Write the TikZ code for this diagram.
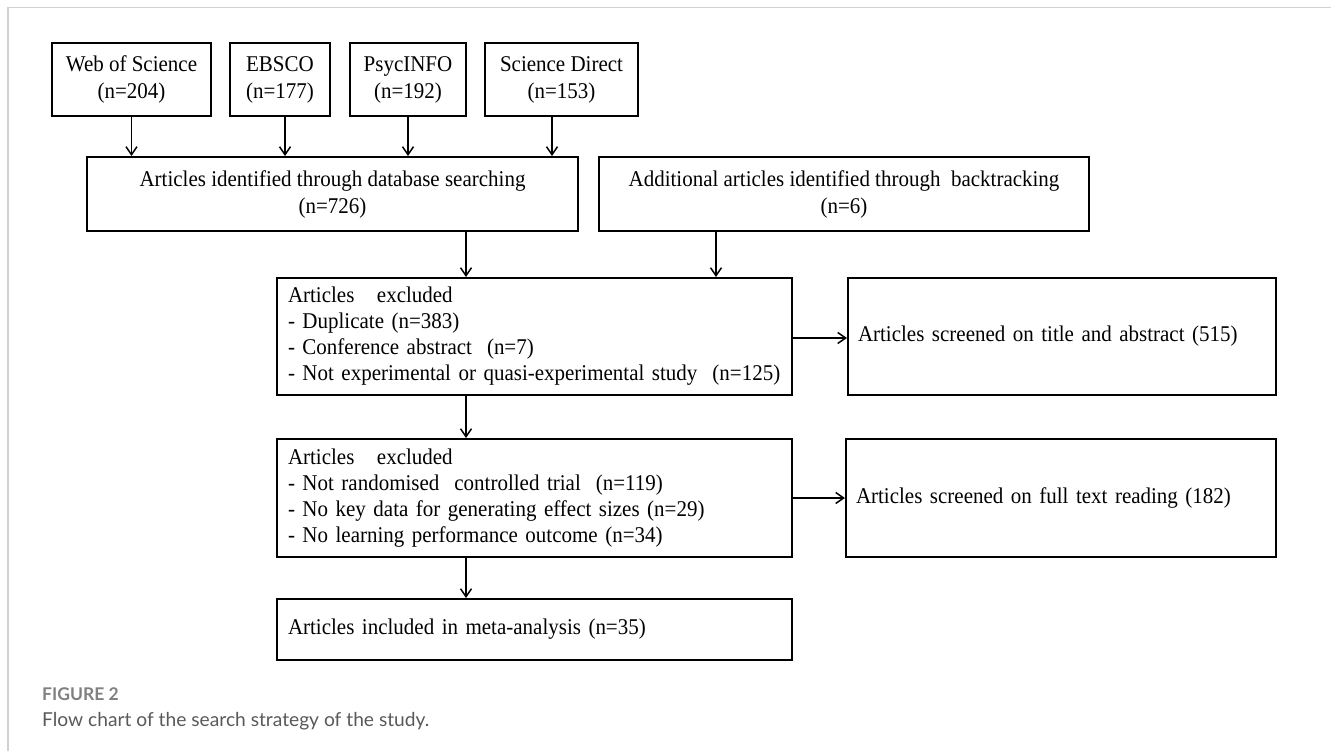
\documentclass[tikz,border=0pt]{standalone}
\usepackage{fontspec}
\setmainfont{Liberation Serif}[FakeStretch=0.933]
\newfontfamily\capfont{Lato}
\usetikzlibrary{arrows.meta}
\begin{document}
\begin{tikzpicture}[x=1pt,y=-1pt,
  box/.style={draw=black, line width=2pt, rectangle, inner sep=0pt,
    font=\fontsize{22.5}{27}\selectfont, align=center},
  lbox/.style={draw=black, line width=2pt, rectangle, inner ysep=0pt,
    font=\fontsize{22.5}{26}\selectfont, align=left},
  arr/.style={line width=1.5pt, -{Straight Barb[length=8pt,width=11pt]}},
  frame/.style={draw=black!18, line width=1.5pt},
  capnode/.style={anchor=base west, inner sep=0pt}]
\useasboundingbox (0,0) rectangle (1331,751);
\draw[frame] (1331,7.5) -- (8,7.5) -- (8,751);

% database boxes
\node[box, minimum width=159pt, minimum height=73pt] (wos) at (131.5,79.5) {Web of Science\\(n=204)};
\node[box, minimum width=100pt, minimum height=73pt] (ebsco) at (280,79.5) {EBSCO\\(n=177)};
\node[box, minimum width=116pt, minimum height=73pt] (psyc) at (408,79.5) {PsycINFO\\(n=192)};
\node[box, minimum width=153pt, minimum height=73pt] (sd) at (561.5,79.5) {Science Direct\\(n=153)};

% identification
\node[box, minimum width=491pt, minimum height=74pt] (ident) at (332.5,194) {Articles identified through database searching\\(n=726)};
\node[box, minimum width=490pt, minimum height=74pt] (add) at (844,194) {Additional articles identified through\ \ backtracking\\(n=6)};

% screening
\node[lbox, inner xsep=11pt, text width=493pt, minimum height=117pt] (excl1) at (534.5,336.5)
  {Articles\ \ \ excluded\\- Duplicate (n=383)\\- Conference abstract\ \ (n=7)\\\mbox{- Not experimental or quasi-experimental study\ \ (n=125)}};
\node[lbox, inner xsep=10pt, text width=408pt, minimum height=117pt] (scr1) at (1062,336.5)
  {Articles screened on title and abstract (515)};
\node[lbox, inner xsep=11pt, text width=493pt, minimum height=118pt] (excl2) at (534.5,498)
  {Articles\ \ \ excluded\\- Not randomised\ \ controlled trial\ \ (n=119)\\- No key data for generating effect sizes (n=29)\\- No learning performance outcome (n=34)};
\node[lbox, inner xsep=10pt, text width=410pt, minimum height=118pt] (scr2) at (1061,498)
  {Articles screened on full text reading (182)};
\node[lbox, inner xsep=11pt, text width=493pt, minimum height=61pt] (final) at (534.5,629.5)
  {Articles included in meta-analysis (n=35)};

% connectors
\coordinate (cx) at (466,0);
\coordinate (ax) at (716,0);
\draw[arr] (wos.south) -- (wos.south |- ident.north);
\draw[arr] ([xshift=5pt]ebsco.south) -- ([xshift=5pt]ebsco.south |- ident.north);
\draw[arr] (psyc.south) -- (psyc.south |- ident.north);
\draw[arr] ([xshift=-9.5pt]sd.south) -- ([xshift=-9.5pt]sd.south |- ident.north);
\draw[arr] (cx |- ident.south) -- (cx |- excl1.north);
\draw[arr] (ax |- add.south) -- (ax |- excl1.north);
\draw[arr] ([yshift=-1.5pt]excl1.east) -- ([yshift=-1.5pt]excl1.east -| scr1.west);
\draw[arr] (cx |- excl1.south) -- (cx |- excl2.north);
\draw[arr] (excl2.east) -- (excl2.east -| scr2.west);
\draw[arr] (cx |- excl2.south) -- (cx |- final.north);

% caption
\node[capnode, font=\capfont\bfseries\fontsize{17.5}{20}\selectfont, text=black!50] (fig) at (42,700) {FIGURE 2};
\node[capnode, font=\capfont\fontsize{19.2}{23}\selectfont, text=black!65] (cap) at (42,726) {Flow chart of the search strategy of the study.};
\end{tikzpicture}
\end{document}
